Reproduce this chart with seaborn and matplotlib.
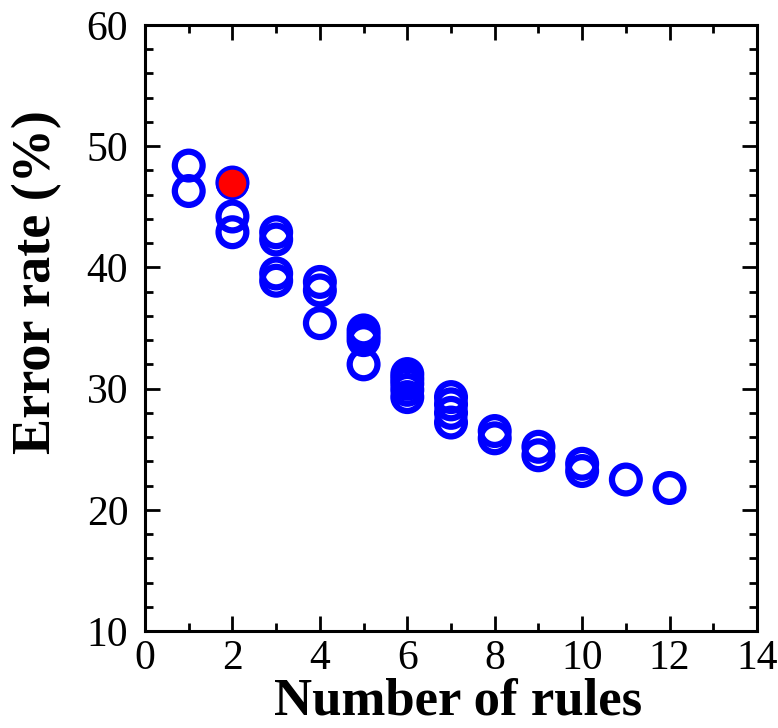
import pandas as pd
import matplotlib
matplotlib.use("Agg")
import matplotlib.pyplot as plt
from matplotlib.ticker import MultipleLocator
import seaborn as sns

# number of rules for each solution, and its error rate (%)
rules = [1, 1,
         2, 2, 2,
         3, 3, 3, 3,
         4, 4, 4,
         5, 5, 5, 5,
         6, 6, 6, 6, 6,
         7, 7, 7, 7,
         8, 8,
         9, 9,
         10, 10,
         11,
         12]
error_rate = [48.4, 46.3,
              47.0, 44.2, 42.9,
              42.9, 42.3, 39.5, 38.9,
              38.8, 38.1, 35.4,
              34.8, 34.4, 34.0, 32.0,
              31.2, 30.8, 30.4, 29.9, 29.3,
              29.3, 28.7, 28.0, 27.2,
              26.5, 25.9,
              25.2, 24.5,
              23.8, 23.2,
              22.5,
              21.8]

# selected solution
sel_rules = [2]
sel_error = [47.0]

sns.set_style("ticks")
plt.rcParams['font.family'] = ['Liberation Serif', 'DejaVu Serif']
for k in ['text.color', 'axes.labelcolor', 'xtick.color', 'ytick.color', 'axes.edgecolor']:
    plt.rcParams[k] = 'black'

df = pd.DataFrame({'rules': rules, 'err': error_rate})
df_sel = pd.DataFrame({'rules': sel_rules, 'err': sel_error})

fig = plt.figure(figsize=(7.78, 7.28), dpi=100)
ax = fig.add_axes([0.1864, 0.1332, 0.973 - 0.1864, 0.9657 - 0.1332])

sns.scatterplot(data=df, x='rules', y='err', ax=ax, marker='o', s=400,
                color='blue', edgecolor='blue', linewidth=4.5, zorder=3)
ax.collections[-1].set_facecolor('none')
sns.scatterplot(data=df_sel, x='rules', y='err', ax=ax, marker='o', s=480,
                color='red', edgecolor='blue', linewidth=2, zorder=4)

ax.set_xlim(0, 14)
ax.set_ylim(10, 60)
ax.xaxis.set_major_locator(MultipleLocator(2))
ax.xaxis.set_minor_locator(MultipleLocator(1))
ax.yaxis.set_major_locator(MultipleLocator(10))
ax.yaxis.set_minor_locator(MultipleLocator(2))

ax.tick_params(which='both', direction='in', top=True, right=True, width=2)
ax.tick_params(which='major', length=11, labelsize=30)
ax.tick_params(axis='y', which='major', pad=12)
ax.tick_params(axis='x', which='major', pad=6)
ax.tick_params(which='minor', length=6)
for sp in ax.spines.values():
    sp.set_linewidth(2.2)
    sp.set_visible(True)

ax.set_xlabel('Number of rules', fontsize=38, fontweight='bold')
ax.set_ylabel('Error rate (%)', fontsize=39, fontweight='bold')
ax.xaxis.set_label_coords(0.511, -0.077)
ax.yaxis.set_label_coords(-0.136, 0.576)

fig.savefig('out.png', dpi=100)
